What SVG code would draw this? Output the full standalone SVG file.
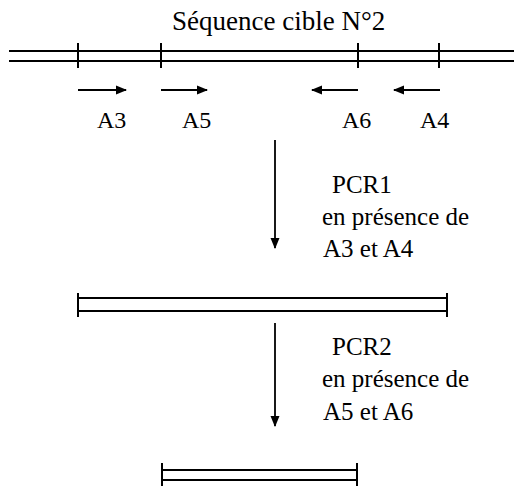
<svg xmlns="http://www.w3.org/2000/svg" width="514" height="486" viewBox="0 0 514 486">
  <style>
    text { font-family: 'Liberation Serif', 'Times New Roman', serif; fill: #000; }
    .strand { stroke: #000; stroke-width: 2; fill: none; }
    .tick { stroke: #000; stroke-width: 2; fill: none; }
    .arr { stroke: #000; stroke-width: 1.8; fill: none; marker-end: url(#head); }
  </style>
  <defs>
    <marker id="head" markerUnits="userSpaceOnUse" markerWidth="12" markerHeight="10" refX="10" refY="5" orient="auto">
      <path d="M0,0.5 L11,5 L0,9.5 Z" fill="#000"/>
    </marker>
  </defs>
  <rect width="514" height="486" fill="#fff"/>

  <g id="title">
    <text x="172" y="30" font-size="27">Séquence cible N°2</text>
  </g>

  <g id="target-sequence">
    <line class="strand" x1="9" y1="51" x2="514" y2="51"/>
    <line class="strand" x1="9" y1="61" x2="514" y2="61"/>
    <line class="tick" x1="78" y1="43" x2="78" y2="68"/>
    <line class="tick" x1="161" y1="43" x2="161" y2="68"/>
    <line class="tick" x1="358" y1="43" x2="358" y2="68"/>
    <line class="tick" x1="439" y1="43" x2="439" y2="68"/>
  </g>

  <g id="primer-A3">
    <line class="arr" x1="78" y1="90" x2="126" y2="90"/>
    <text x="97" y="128" font-size="24">A3</text>
  </g>
  <g id="primer-A5">
    <line class="arr" x1="161" y1="90" x2="207" y2="90"/>
    <text x="182" y="128" font-size="24">A5</text>
  </g>
  <g id="primer-A6">
    <line class="arr" x1="358" y1="90" x2="312" y2="90"/>
    <text x="342" y="128" font-size="24">A6</text>
  </g>
  <g id="primer-A4">
    <line class="arr" x1="440" y1="90" x2="394" y2="90"/>
    <text x="420" y="128" font-size="24">A4</text>
  </g>

  <g id="pcr1-label" font-size="25">
    <text x="332" y="193">PCR1</text>
    <text x="322" y="225">en présence de</text>
    <text x="323" y="257">A3 et A4</text>
  </g>

  <g id="product-1">
    <line class="strand" x1="78" y1="298" x2="447" y2="298"/>
    <line class="strand" x1="78" y1="311" x2="447" y2="311"/>
    <line class="tick" x1="78" y1="293" x2="78" y2="317"/>
    <line class="tick" x1="447" y1="293" x2="447" y2="317"/>
  </g>

  <g id="pcr2-label" font-size="25">
    <text x="332" y="355">PCR2</text>
    <text x="322" y="387">en présence de</text>
    <text x="323" y="420">A5 et A6</text>
  </g>

  <g id="product-2">
    <line class="strand" x1="162" y1="470" x2="357" y2="470"/>
    <line class="strand" x1="162" y1="480" x2="357" y2="480"/>
    <line class="tick" x1="162" y1="463" x2="162" y2="486"/>
    <line class="tick" x1="357" y1="463" x2="357" y2="486"/>
  </g>

  <g id="connectors">
    <line class="arr" x1="275" y1="140" x2="275" y2="248"/>
    <line class="arr" x1="275" y1="323" x2="275" y2="426"/>
  </g>
</svg>
